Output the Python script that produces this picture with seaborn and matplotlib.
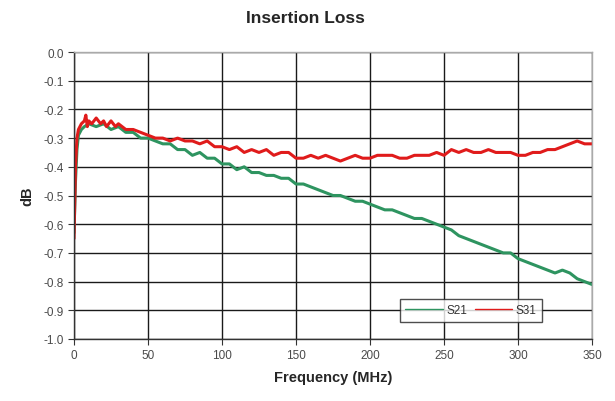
import matplotlib
matplotlib.use("Agg")
import matplotlib.pyplot as plt
from matplotlib import font_manager
import seaborn as sns
import pandas as pd

freq_s21 = [0, 1, 2, 3, 5, 7, 10, 15, 20, 25, 30, 35, 40, 45, 50, 55, 60, 65, 70, 75,
            80, 85, 90, 95, 100, 105, 110, 115, 120, 125, 130, 135, 140, 145, 150, 155,
            160, 165, 170, 175, 180, 185, 190, 195, 200, 205, 210, 215, 220, 225, 230,
            235, 240, 245, 250, 255, 260, 265, 270, 275, 280, 285, 290, 295, 300, 305,
            310, 315, 320, 325, 330, 335, 340, 345, 350]
s21 = [-0.63, -0.45, -0.34, -0.29, -0.27, -0.26, -0.25, -0.26, -0.25, -0.27, -0.26,
       -0.28, -0.28, -0.30, -0.30, -0.31, -0.32, -0.32, -0.34, -0.34, -0.36, -0.35,
       -0.37, -0.37, -0.39, -0.39, -0.41, -0.40, -0.42, -0.42, -0.43, -0.43, -0.44,
       -0.44, -0.46, -0.46, -0.47, -0.48, -0.49, -0.50, -0.50, -0.51, -0.52, -0.52,
       -0.53, -0.54, -0.55, -0.55, -0.56, -0.57, -0.58, -0.58, -0.59, -0.60, -0.61,
       -0.62, -0.64, -0.65, -0.66, -0.67, -0.68, -0.69, -0.70, -0.70, -0.72, -0.73,
       -0.74, -0.75, -0.76, -0.77, -0.76, -0.77, -0.79, -0.80, -0.81]

freq_s31 = [0, 1, 2, 3, 5, 7, 8, 9, 10, 12, 15, 18, 20, 22, 25, 28, 30, 35, 40, 45, 50,
            55, 60, 65, 70, 75, 80, 85, 90, 95, 100, 105, 110, 115, 120, 125, 130, 135,
            140, 145, 150, 155, 160, 165, 170, 175, 180, 185, 190, 195, 200, 205, 210,
            215, 220, 225, 230, 235, 240, 245, 250, 255, 260, 265, 270, 275, 280, 285,
            290, 295, 300, 305, 310, 315, 320, 325, 330, 335, 340, 345, 350]
s31 = [-0.65, -0.40, -0.30, -0.27, -0.25, -0.24, -0.22, -0.26, -0.24, -0.25, -0.23,
       -0.25, -0.24, -0.26, -0.24, -0.26, -0.25, -0.27, -0.27, -0.28, -0.29, -0.30,
       -0.30, -0.31, -0.30, -0.31, -0.31, -0.32, -0.31, -0.33, -0.33, -0.34, -0.33,
       -0.35, -0.34, -0.35, -0.34, -0.36, -0.35, -0.35, -0.37, -0.37, -0.36, -0.37,
       -0.36, -0.37, -0.38, -0.37, -0.36, -0.37, -0.37, -0.36, -0.36, -0.36, -0.37,
       -0.37, -0.36, -0.36, -0.36, -0.35, -0.36, -0.34, -0.35, -0.34, -0.35, -0.35,
       -0.34, -0.35, -0.35, -0.35, -0.36, -0.36, -0.35, -0.35, -0.34, -0.34, -0.33,
       -0.32, -0.31, -0.32, -0.32]

x_ticks = [0, 50, 100, 150, 200, 250, 300, 350]
y_ticks = [0.0, -0.1, -0.2, -0.3, -0.4, -0.5, -0.6, -0.7, -0.8, -0.9, -1.0]

df = pd.concat([
    pd.DataFrame({"Frequency": freq_s21, "dB": s21, "Series": "S21"}),
    pd.DataFrame({"Frequency": freq_s31, "dB": s31, "Series": "S31"}),
])

sns.set_style("white")
plt.rcParams["font.family"] = ["Liberation Sans", "DejaVu Sans"]

installed = {f.name for f in font_manager.fontManager.ttflist}
title_family = ["Liberation Sans Narrow"] if "Liberation Sans Narrow" in installed else ["Liberation Sans"]

fig = plt.figure(figsize=(6.15, 4.02), dpi=100)
ax = fig.add_axes([74 / 615, 1 - 340 / 402, 518 / 615, 287 / 402])

sns.lineplot(data=df, x="Frequency", y="dB", hue="Series",
             palette={"S21": "#2e9460", "S31": "#e01b1b"},
             linewidth=2.2, ax=ax, legend=True, estimator=None, sort=False)

ax.set_xlim(0, 350)
ax.set_ylim(-1.0, 0.0)
ax.set_xticks(x_ticks)
ax.set_yticks(y_ticks)
ax.set_yticklabels([f"{v:.1f}" for v in y_ticks])
ax.grid(True, color="#1a1a1a", linewidth=1.0)
ax.set_axisbelow(True)
for side in ["left", "bottom"]:
    ax.spines[side].set_color("#333333")
    ax.spines[side].set_linewidth(1.0)
for side in ["top", "right"]:
    ax.spines[side].set_color("#aaaaaa")
    ax.spines[side].set_linewidth(1.0)
ax.tick_params(axis="both", labelsize=8.5, colors="#333333", labelcolor="#4a4a4a",
               length=4, direction="out", left=True, bottom=True)

ax.set_xlabel("Frequency (MHz)", fontsize=10.5, fontweight="bold", labelpad=6)
ax.set_ylabel("dB", fontsize=10.5, fontweight="bold", labelpad=6)
fig.text(0.497, 0.955, "Insertion Loss", ha="center", va="center",
         fontsize=12.5, fontweight="bold", family=title_family)

leg = ax.legend(loc="lower right", bbox_to_anchor=(0.915, 0.04), ncol=2,
                frameon=True, fancybox=False, fontsize=8.5, handlelength=3.2,
                columnspacing=0.6, handletextpad=0.3, borderpad=0.45)
leg.get_frame().set_edgecolor("#222222")
leg.get_frame().set_linewidth(1.0)
for line in leg.get_lines():
    line.set_linewidth(1.0)
for t in leg.get_texts():
    t.set_color("#333333")

fig.savefig("out.png", dpi=100)
